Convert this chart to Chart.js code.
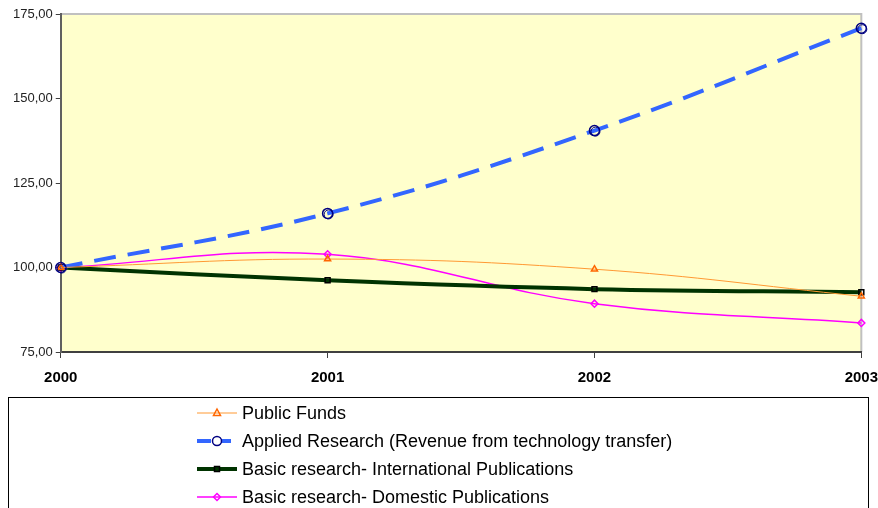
<!DOCTYPE html>
<html>
<head>
<meta charset="utf-8">
<script src="https://cdn.jsdelivr.net/npm/chart.js@4"></script>
<style>
  html, body { margin: 0; padding: 0; background: #fff; }
  body { width: 878px; height: 508px; overflow: hidden; position: relative; font-family: Arial, "Liberation Sans", sans-serif; }
  #wrap { position: absolute; left: 0; top: 0; width: 889px; height: 398px; }
  #legend { position: absolute; left: 8px; top: 397px; width: 861px; height: 130px; border: 1px solid #000; box-sizing: border-box; }
  .item { position: absolute; left: 187px; height: 24px; display: flex; align-items: center; font-size: 18px; color: #000; }
  .item canvas { margin-right: 4px; }
</style>
</head>
<body>
<div id="wrap"><canvas id="chart"></canvas></div>
<div id="legend"></div>
<script>
// years on the x axis
const years = ['2000', '2001', '2002', '2003'];

// index values, 2000 = 100
const publicFunds = [100, 102.5, 99.5, 91.5];
const appliedResearch = [100, 116, 140.5, 170.8];
const intlPublications = [100, 96.2, 93.6, 92.7];
const domesticPublications = [100, 103.9, 89.3, 83.6];

const seriesNames = [
  'Public Funds',
  'Applied Research (Revenue from technology transfer)',
  'Basic research- International Publications',
  'Basic research- Domestic Publications'
];

const yTicks = [75, 100, 125, 150, 175];

// yellow plot area + grey frame on top / right
const plotBg = {
  id: 'plotBg',
  beforeDraw(chart) {
    const { ctx, chartArea: a } = chart;
    ctx.save();
    ctx.fillStyle = '#FFFFCC';
    ctx.fillRect(a.left, a.top, a.right - a.left, a.bottom - a.top);
    ctx.strokeStyle = '#C0C0C0';
    ctx.lineWidth = 2;
    ctx.beginPath();
    ctx.moveTo(a.left, a.top);
    ctx.lineTo(a.right, a.top);
    ctx.lineTo(a.right, a.bottom);
    ctx.stroke();
    ctx.restore();
  }
};

// second ring on the applied research markers
const doubleRing = {
  id: 'doubleRing',
  afterDatasetsDraw(chart) {
    const { ctx } = chart;
    const meta = chart.getDatasetMeta(1);
    ctx.save();
    ctx.strokeStyle = '#000080';
    ctx.lineWidth = 1;
    meta.data.forEach(p => {
      ctx.beginPath();
      ctx.arc(p.x + 1, p.y + 1, 4.5, 0, Math.PI * 2);
      ctx.stroke();
    });
    ctx.restore();
  }
};

const styles = [
  { color: '#FF9933', width: 1, dash: [], point: 'triangle', pr: 3.5, pb: '#FF6600', pbg: 'rgba(0,0,0,0)' },
  { color: '#3366FF', width: 4, dash: [22, 12], point: 'circle', pr: 5, pb: '#000080', pbg: 'rgba(0,0,0,0)' },
  { color: '#003300', width: 4, dash: [], point: 'rect', pr: 3.5, pb: '#000000', pbg: 'rgba(0,0,0,0)' },
  { color: '#FF00FF', width: 1.5, dash: [], point: 'rectRot', pr: 3.5, pb: '#FF00FF', pbg: 'rgba(0,0,0,0)' }
];

const values = [publicFunds, appliedResearch, intlPublications, domesticPublications];

const datasets = values.map((v, i) => ({
  label: seriesNames[i],
  data: v,
  borderColor: styles[i].color,
  borderWidth: styles[i].width,
  borderDash: styles[i].dash,
  tension: 0.4,
  pointStyle: styles[i].point,
  pointRadius: styles[i].pr,
  pointBorderColor: styles[i].pb,
  pointBackgroundColor: styles[i].pbg,
  pointBorderWidth: 1.5,
  fill: false
}));

new Chart(document.getElementById('chart'), {
  type: 'line',
  data: { labels: years, datasets: datasets },
  plugins: [plotBg, doubleRing],
  options: {
    responsive: true,
    maintainAspectRatio: false,
    animation: false,
    layout: { padding: { top: 14, right: 0, left: 10, bottom: 0 } },
    plugins: { legend: { display: false }, tooltip: { enabled: false } },
    scales: {
      x: {
        offset: false,
        grid: { display: true, drawOnChartArea: false, drawTicks: true, tickLength: 6, color: '#404040', lineWidth: 1 },
        border: { display: true, color: '#404040', width: 2 },
        ticks: { color: '#000', font: { family: 'Arial', size: 15, weight: 'bold' }, padding: 11, maxRotation: 0 }
      },
      y: {
        min: 75,
        max: 175,
        afterBuildTicks: axis => { axis.ticks = yTicks.map(v => ({ value: v })); },
        grid: { display: true, drawOnChartArea: false, drawTicks: true, tickLength: 5, color: '#404040', lineWidth: 1 },
        border: { display: true, color: '#606060', width: 2 },
        ticks: {
          color: '#222',
          font: { family: 'Arial', size: 13 },
          padding: 3,
          callback: v => v.toFixed(2).replace('.', ',')
        }
      }
    }
  }
});

// legend box below the chart
const legend = document.getElementById('legend');
seriesNames.forEach((name, i) => {
  const row = document.createElement('div');
  row.className = 'item';
  row.style.top = (3 + i * 28) + 'px';
  const c = document.createElement('canvas');
  c.width = 42; c.height = 20;
  const g = c.getContext('2d');
  const s = styles[i];
  g.strokeStyle = s.color;
  g.lineWidth = s.width;
  g.setLineDash(s.dash.length ? [14, 6] : []);
  g.beginPath(); g.moveTo(1, 10); g.lineTo(41, 10); g.stroke();
  g.setLineDash([]);
  g.strokeStyle = s.pb;
  g.lineWidth = 1.5;
  g.beginPath();
  if (s.point === 'triangle') { g.moveTo(21, 6); g.lineTo(24.5, 12.5); g.lineTo(17.5, 12.5); g.closePath(); }
  else if (s.point === 'circle') { g.fillStyle = '#fff'; g.arc(21, 10, 4.5, 0, Math.PI * 2); g.fill(); }
  else if (s.point === 'rect') { g.rect(18.5, 7.5, 5, 5); }
  else { g.moveTo(21, 6.5); g.lineTo(24.5, 10); g.lineTo(21, 13.5); g.lineTo(17.5, 10); g.closePath(); }
  g.stroke();
  row.appendChild(c);
  row.appendChild(document.createTextNode(name));
  legend.appendChild(row);
});
</script>
</body>
</html>
